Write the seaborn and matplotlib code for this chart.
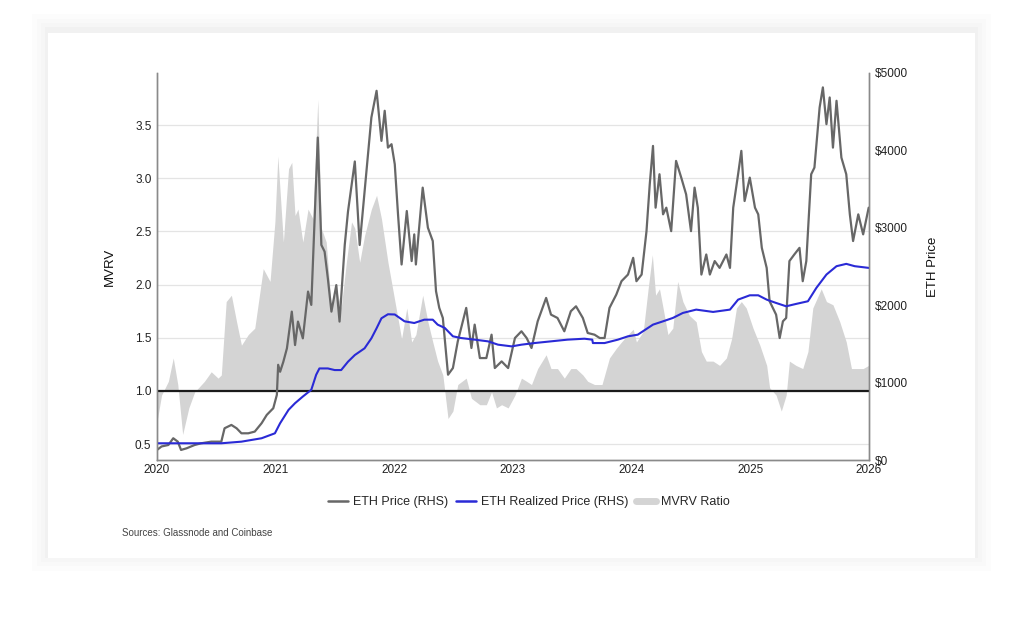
import pandas as pd
import matplotlib.pyplot as plt
import matplotlib.dates as mdates
from matplotlib.patches import Rectangle
from matplotlib.lines import Line2D
import seaborn as sns

# ETH price (RHS, USD)
price_dates = [
    "2020-01-01", "2020-01-15", "2020-02-05", "2020-02-20", "2020-03-05", "2020-03-15",
    "2020-04-01", "2020-04-26", "2020-05-16", "2020-06-16", "2020-07-17", "2020-07-27",
    "2020-08-17", "2020-09-02", "2020-09-17", "2020-10-08", "2020-10-28", "2020-11-18",
    "2020-12-04", "2020-12-24",
    "2021-01-04", "2021-01-08", "2021-01-14", "2021-01-24", "2021-02-04", "2021-02-19",
    "2021-03-01", "2021-03-10", "2021-03-25", "2021-04-10", "2021-04-20", "2021-04-30",
    "2021-05-10", "2021-05-21", "2021-05-31", "2021-06-10", "2021-06-21", "2021-07-06",
    "2021-07-16", "2021-08-01", "2021-08-11", "2021-09-01", "2021-09-16", "2021-10-01",
    "2021-10-22", "2021-11-07", "2021-11-22", "2021-12-02", "2021-12-12", "2021-12-23",
    "2022-01-02", "2022-01-12", "2022-01-23", "2022-02-08", "2022-02-23", "2022-03-03",
    "2022-03-08", "2022-03-29", "2022-04-14", "2022-04-29", "2022-05-09", "2022-05-19",
    "2022-05-30", "2022-06-15", "2022-06-30", "2022-07-15", "2022-08-10", "2022-08-26",
    "2022-09-05", "2022-09-21", "2022-10-11", "2022-10-27", "2022-11-06", "2022-11-27",
    "2022-12-17",
    "2023-01-07", "2023-01-27", "2023-02-12", "2023-02-27", "2023-03-18", "2023-04-13",
    "2023-04-28", "2023-05-18", "2023-06-08", "2023-06-28", "2023-07-14", "2023-08-04",
    "2023-08-19", "2023-09-09", "2023-09-25", "2023-10-10", "2023-10-25", "2023-11-15",
    "2023-12-01", "2023-12-21",
    "2024-01-06", "2024-01-16", "2024-02-01", "2024-02-16", "2024-02-26", "2024-03-07",
    "2024-03-15", "2024-03-27", "2024-04-07", "2024-04-17", "2024-05-02", "2024-05-17",
    "2024-06-02", "2024-06-17", "2024-07-02", "2024-07-13", "2024-07-23", "2024-08-03",
    "2024-08-18", "2024-08-29", "2024-09-13", "2024-09-28", "2024-10-19", "2024-10-30",
    "2024-11-09", "2024-11-24", "2024-12-04", "2024-12-14", "2024-12-30",
    "2025-01-15", "2025-01-25", "2025-02-05", "2025-02-20", "2025-03-01", "2025-03-11",
    "2025-03-21", "2025-04-01", "2025-04-11", "2025-04-21", "2025-05-01", "2025-05-16",
    "2025-06-01", "2025-06-11", "2025-06-22", "2025-07-07", "2025-07-17", "2025-08-02",
    "2025-08-12", "2025-08-23", "2025-09-02", "2025-09-12", "2025-09-23", "2025-10-08",
    "2025-10-23", "2025-11-03", "2025-11-13", "2025-11-29", "2025-12-14", "2025-12-31",
]
price_values = [
    130, 175, 194, 281, 237, 130, 151, 194, 216, 237, 237, 410,
    453, 410, 345, 345, 367, 475, 583, 669,
    842, 1230, 1140, 1270, 1443, 1917, 1485, 1788, 1572, 2176, 2004, 3080,
    4166, 2778, 2692, 2346, 1917, 2260, 1788, 2778, 3210, 3857, 2778, 3469,
    4425, 4770, 4123, 4512, 4036, 4080,
    3821, 3174, 2526, 3217, 2570, 2915, 2526, 3519, 3001, 2829, 2181, 1965,
    1835, 1102, 1188, 1533, 1965, 1447, 1749, 1317, 1317, 1619, 1188, 1274,
    1188,
    1576, 1663, 1576, 1447, 1792, 2094, 1878, 1835, 1663, 1922, 1986, 1835,
    1641, 1619, 1576, 1576, 1965, 2137, 2310, 2396,
    2612, 2310, 2396, 2957, 3562, 4058, 3260, 3692, 3174, 3260, 2957, 3864,
    3648, 3432, 2957, 3519, 3260, 2396, 2655, 2396, 2570, 2482, 2655, 2482,
    3260, 3692, 3994, 3346, 3648,
    3260, 3174, 2741, 2482, 2051, 1965, 1878, 1576, 1792, 1835, 2570, 2655,
    2741, 2310, 2570, 3692, 3778, 4555, 4814, 4339, 4684, 4036, 4641, 3907,
    3692, 3174, 2829, 3174, 2915, 3260,
]

# ETH realized price (RHS, USD)
realized_dates = [
    "2020-01-01", "2020-07-17", "2020-09-17", "2020-11-18", "2020-12-29",
    "2021-01-14", "2021-02-09", "2021-03-01", "2021-03-25", "2021-04-20", "2021-05-05",
    "2021-05-15", "2021-06-10", "2021-07-01", "2021-07-21", "2021-08-11", "2021-09-01",
    "2021-10-01", "2021-10-22", "2021-11-07", "2021-11-22", "2021-12-12",
    "2022-01-02", "2022-02-01", "2022-03-03", "2022-04-03", "2022-04-29", "2022-05-14",
    "2022-06-05", "2022-06-30", "2022-07-25", "2022-09-05", "2022-10-16", "2022-11-16",
    "2022-12-28",
    "2023-01-27", "2023-03-08", "2023-04-28", "2023-06-18", "2023-08-09", "2023-09-02",
    "2023-09-04", "2023-10-10", "2023-11-20", "2023-12-21",
    "2024-01-20", "2024-03-07", "2024-04-07", "2024-05-07", "2024-06-07", "2024-07-18",
    "2024-09-08", "2024-10-30", "2024-11-24", "2024-12-30",
    "2025-01-25", "2025-02-20", "2025-03-21", "2025-04-21", "2025-05-21", "2025-06-27",
    "2025-07-23", "2025-08-23", "2025-09-23", "2025-10-23", "2025-11-18", "2025-12-31",
]
realized_values = [
    216, 216, 237, 281, 345,
    475, 648, 734, 820, 907, 1101,
    1183, 1183, 1162, 1162, 1270, 1356,
    1443, 1572, 1702, 1831, 1883,
    1880, 1792, 1770, 1813, 1813, 1749,
    1706, 1598, 1576, 1555, 1533, 1490,
    1468,
    1490, 1511, 1533, 1555, 1567, 1555,
    1511, 1511, 1555, 1598,
    1619, 1749, 1792, 1835, 1900, 1943,
    1913, 1943, 2072, 2128,
    2128, 2072, 2029, 1986, 2016, 2051,
    2224, 2396, 2504, 2534, 2504, 2482,
]

# MVRV ratio (LHS)
mvrv_dates = [
    "2020-01-01", "2020-01-15", "2020-02-05", "2020-02-20", "2020-03-05", "2020-03-20",
    "2020-04-08", "2020-04-26", "2020-05-26", "2020-06-16", "2020-07-07", "2020-07-17",
    "2020-08-01", "2020-08-17", "2020-09-02", "2020-09-17", "2020-10-08", "2020-10-28",
    "2020-11-23", "2020-12-14", "2020-12-29",
    "2021-01-07", "2021-01-24", "2021-02-09", "2021-02-19", "2021-03-01", "2021-03-10",
    "2021-03-25", "2021-04-10", "2021-04-25", "2021-05-10", "2021-05-21", "2021-06-05",
    "2021-06-21", "2021-07-06", "2021-07-21", "2021-08-06", "2021-08-22", "2021-09-01",
    "2021-09-16", "2021-10-01", "2021-10-22", "2021-11-07", "2021-11-22", "2021-12-12",
    "2022-01-02", "2022-01-23", "2022-02-08", "2022-02-23", "2022-03-08", "2022-03-29",
    "2022-04-14", "2022-04-29", "2022-05-14", "2022-05-30", "2022-06-15", "2022-06-30",
    "2022-07-15", "2022-08-10", "2022-08-26", "2022-09-21", "2022-10-11", "2022-10-27",
    "2022-11-11", "2022-11-27", "2022-12-17",
    "2023-01-07", "2023-01-27", "2023-02-12", "2023-02-27", "2023-03-18", "2023-04-13",
    "2023-04-28", "2023-05-18", "2023-06-08", "2023-06-28", "2023-07-14", "2023-08-04",
    "2023-08-19", "2023-09-09", "2023-10-02", "2023-10-25", "2023-11-15", "2023-12-01",
    "2023-12-21",
    "2024-01-06", "2024-01-16", "2024-02-06", "2024-02-21", "2024-03-05", "2024-03-15",
    "2024-03-27", "2024-04-07", "2024-04-22", "2024-05-07", "2024-05-22", "2024-06-07",
    "2024-06-27", "2024-07-18", "2024-08-03", "2024-08-18", "2024-09-08", "2024-09-28",
    "2024-10-19", "2024-11-04", "2024-11-19", "2024-12-04", "2024-12-19",
    "2025-01-09", "2025-01-30", "2025-02-20", "2025-03-01", "2025-03-21", "2025-04-06",
    "2025-04-21", "2025-05-01", "2025-05-21", "2025-06-11", "2025-06-27", "2025-07-12",
    "2025-08-07", "2025-08-23", "2025-09-12", "2025-10-03", "2025-10-23", "2025-11-08",
    "2025-11-24", "2025-12-14", "2025-12-31",
]
mvrv_values = [
    0.71, 0.96, 1.09, 1.31, 1.06, 0.59, 0.84, 0.99, 1.09, 1.18, 1.12, 1.15,
    1.84, 1.90, 1.65, 1.43, 1.53, 1.59, 2.15, 2.03, 2.59,
    3.21, 2.40, 3.09, 3.15, 2.65, 2.71, 2.40, 2.71, 2.62, 3.74, 2.53, 2.40,
    1.78, 1.96, 1.78, 2.21, 2.59, 2.53, 2.21, 2.46, 2.71, 2.84, 2.62, 2.21,
    1.85, 1.49, 1.78, 1.46, 1.53, 1.90, 1.65, 1.46, 1.28, 1.15, 0.74, 0.81,
    1.06, 1.12, 0.93, 0.87, 0.87, 0.99, 0.84, 0.87, 0.84,
    0.96, 1.12, 1.09, 1.06, 1.21, 1.34, 1.21, 1.21, 1.12, 1.21, 1.21, 1.15,
    1.09, 1.06, 1.06, 1.31, 1.40, 1.46, 1.53,
    1.58, 1.46, 1.56, 1.96, 2.28, 1.90, 1.96, 1.78, 1.53, 1.59, 2.03, 1.84,
    1.71, 1.65, 1.37, 1.28, 1.28, 1.24, 1.31, 1.49, 1.78, 1.84, 1.78,
    1.59, 1.43, 1.24, 1.03, 0.96, 0.81, 0.96, 1.28, 1.24, 1.21, 1.37, 1.78,
    1.96, 1.84, 1.81, 1.65, 1.46, 1.21, 1.21, 1.21, 1.24,
]

year_ticks = ["2020", "2021", "2022", "2023", "2024", "2025", "2026"]
mvrv_ticks = [0.5, 1.0, 1.5, 2.0, 2.5, 3.0, 3.5]
price_ticks = [0, 1000, 2000, 3000, 4000, 5000]

price = pd.DataFrame({"date": pd.to_datetime(price_dates), "value": price_values})
realized = pd.DataFrame({"date": pd.to_datetime(realized_dates), "value": realized_values})
mvrv = pd.DataFrame({"date": pd.to_datetime(mvrv_dates), "value": mvrv_values})

sns.set_style("white")
plt.rcParams["font.family"] = ["Liberation Sans", "DejaVu Sans"]

fig = plt.figure(figsize=(10.24, 6.19), dpi=100)
fig.patch.set_facecolor("white")

# card with a soft shadow (drawn under the axes)
for pad, shade in [(16, "#fcfcfc"), (11, "#f9f9f9"), (7, "#f6f6f6"), (3, "#f1f1f1")]:
    fig.patches.append(Rectangle(((48 - pad) / 1024, (61 - pad + 3) / 619),
                                 (927 + 2 * pad) / 1024, (525 + 2 * pad) / 619,
                                 transform=fig.transFigure, facecolor=shade,
                                 edgecolor="none", zorder=-10))
fig.patches.append(Rectangle((48 / 1024, 61 / 619), 927 / 1024, 525 / 619,
                             transform=fig.transFigure, facecolor="white",
                             edgecolor="none", zorder=-9))

ax = fig.add_axes([157 / 1024, 159 / 619, 712 / 1024, 387 / 619])
ax.patch.set_alpha(0)
ax2 = ax.twinx()
ax2.patch.set_alpha(0)

# MVRV area, filled from the 1.0 line
ax.fill_between(mvrv["date"], 1.0, mvrv["value"], color="#d4d4d4", linewidth=0, zorder=1)
ax.axhline(1.0, color="#1a1a1a", linewidth=1.6, zorder=3)

sns.lineplot(data=price, x="date", y="value", ax=ax2, color="#676767", linewidth=1.6)
sns.lineplot(data=realized, x="date", y="value", ax=ax2, color="#2a2ad6", linewidth=1.5)

ax.set_xlim(pd.Timestamp("2020-01-01"), pd.Timestamp("2026-01-01"))
ax.set_ylim(0.35, 3.99)
ax2.set_ylim(0, 5000)

ax.set_yticks(mvrv_ticks)
ax.set_yticklabels([f"{v:.1f}" for v in mvrv_ticks])
ax2.set_yticks(price_ticks)
ax2.set_yticklabels([f"${v}" for v in price_ticks])
ax.set_xticks(pd.to_datetime([y + "-01-01" for y in year_ticks]))
ax.xaxis.set_major_formatter(mdates.DateFormatter("%Y"))

ax.grid(axis="y", color="#e4e4e4", linewidth=0.9, zorder=0)
ax.set_axisbelow(True)

for a in (ax, ax2):
    a.tick_params(length=0, labelsize=8.5, labelcolor="#222222", pad=4)
    a.spines["top"].set_visible(False)
    for s in ("left", "right", "bottom"):
        a.spines[s].set_color("#8a8a8a")
        a.spines[s].set_linewidth(1.0)
ax.tick_params(axis="x", pad=3)

ax.set_xlabel("")
ax2.set_xlabel("")
ax.set_ylabel("MVRV", fontsize=9.5, color="#111111", labelpad=14)
ax2.set_ylabel("ETH Price", fontsize=9.5, color="#111111", labelpad=14)

handles = [
    Line2D([], [], color="#676767", linewidth=1.8),
    Line2D([], [], color="#2a2ad6", linewidth=1.8),
    Line2D([], [], color="#d4d4d4", linewidth=5),
]
labels = ["ETH Price (RHS)", "ETH Realized Price (RHS)", "MVRV Ratio"]
fig.legend(handles, labels, loc="center", bbox_to_anchor=(529 / 1024, 1 - 502 / 619),
           ncol=3, frameon=False, fontsize=9, handlelength=1.6, handletextpad=0.4,
           columnspacing=0.6)

fig.text(122 / 1024, 1 - 533 / 619, "Sources: Glassnode and Coinbase",
         fontsize=7, color="#444444", va="center")

fig.savefig("out.png", dpi=100, facecolor=fig.get_facecolor())
